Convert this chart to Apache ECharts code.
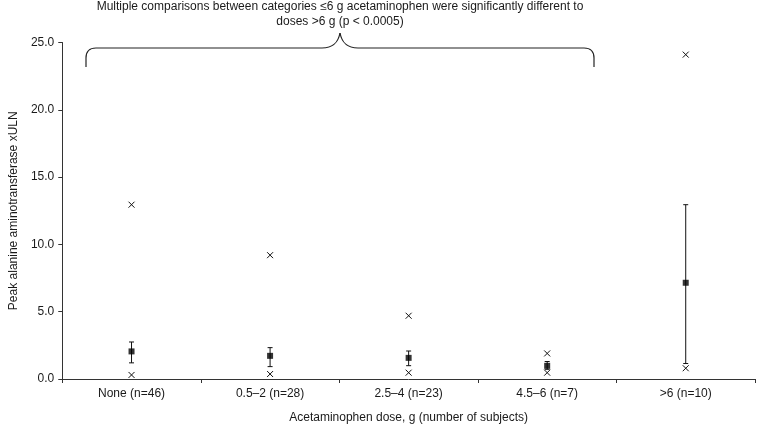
<!DOCTYPE html>
<html>
<head>
<meta charset="utf-8">
<script src="https://cdn.jsdelivr.net/npm/echarts@6/dist/echarts.min.js"></script>
<style>
html,body{margin:0;padding:0;background:#fff;}
#chart{width:757px;height:434px;}
</style>
</head>
<body>
<div id="chart"></div>
<script>
const categories = ['None (n=46)', '0.5–2 (n=28)', '2.5–4 (n=23)', '4.5–6 (n=7)', '>6 (n=10)'];
const centreValues = [2.05, 1.72, 1.57, 0.98, 7.15];
const errorLow = [1.2, 0.92, 0.99, 0.72, 1.15];
const errorHigh = [2.75, 2.33, 2.08, 1.3, 12.95];
const maxValues = [12.95, 9.2, 4.7, 1.9, 24.1];
const minValues = [0.3, 0.37, 0.47, 0.47, 0.8];
const yTicks = { min: 0, max: 25, interval: 5 };
const annotationLines = [
  'Multiple comparisons between categories ≤6 g acetaminophen were significantly different to',
  'doses >6 g (p < 0.0005)'
];

const FONT = 'Liberation Sans, Arial, sans-serif';
const INK = '#1a1a1a';

const chart = echarts.init(document.getElementById('chart'), null, { renderer: 'canvas' });

const errData = categories.map((c, i) => [i, errorLow[i], errorHigh[i]]);
const crossData = [];
categories.forEach((c, i) => { crossData.push([i, maxValues[i]]); crossData.push([i, minValues[i]]); });
const centreData = categories.map((c, i) => [i, centreValues[i]]);

const braceStyle = { stroke: '#222', lineWidth: 1.2, fill: null };
function seg(x1, y1, x2, y2) {
  return { type: 'line', shape: { x1, y1, x2, y2 }, style: braceStyle, silent: true };
}
function bez(shape) {
  return { type: 'bezierCurve', shape, style: braceStyle, silent: true };
}

chart.setOption({
  animation: false,
  backgroundColor: '#fff',
  textStyle: { fontFamily: FONT },
  grid: { left: 51, right: 2, top: 42.5, bottom: 55, containLabel: false },
  xAxis: {
    type: 'category',
    data: categories,
    boundaryGap: true,
    axisLine: { lineStyle: { color: '#333', width: 1 } },
    axisTick: { show: true, interval: 0, length: 4, lineStyle: { color: '#333' } },
    axisLabel: { interval: 0, color: INK, fontSize: 12, fontFamily: FONT, margin: 9 },
    name: 'Acetaminophen dose, g (number of subjects)',
    nameLocation: 'middle',
    nameGap: 33,
    nameTextStyle: { color: INK, fontSize: 12, fontFamily: FONT },
    splitLine: { show: false }
  },
  yAxis: {
    type: 'value',
    min: yTicks.min, max: yTicks.max, interval: yTicks.interval,
    axisLine: { show: true, lineStyle: { color: '#333', width: 1 } },
    axisTick: { show: true, length: 4, lineStyle: { color: '#333' } },
    axisLabel: { color: INK, fontSize: 12, fontFamily: FONT, margin: 8, formatter: v => v.toFixed(1) },
    splitLine: { show: false },
    name: 'Peak alanine aminotransferase xULN',
    nameLocation: 'middle',
    nameGap: 37,
    nameTextStyle: { color: INK, fontSize: 12, fontFamily: FONT }
  },
  series: [
    {
      type: 'custom',
      name: 'range',
      data: errData,
      encode: { x: 0, y: [1, 2] },
      renderItem: (params, api) => {
        const lo = api.coord([api.value(0), api.value(1)]);
        const hi = api.coord([api.value(0), api.value(2)]);
        const cap = 2.5;
        const st = { stroke: '#111', lineWidth: 1, fill: null };
        return {
          type: 'group',
          children: [
            { type: 'line', shape: { x1: lo[0], y1: lo[1], x2: hi[0], y2: hi[1] }, style: st },
            { type: 'line', shape: { x1: lo[0] - cap, y1: lo[1], x2: lo[0] + cap, y2: lo[1] }, style: st },
            { type: 'line', shape: { x1: hi[0] - cap, y1: hi[1], x2: hi[0] + cap, y2: hi[1] }, style: st }
          ]
        };
      },
      z: 2
    },
    {
      type: 'custom',
      name: 'extremes',
      data: crossData,
      encode: { x: 0, y: 1 },
      renderItem: (params, api) => {
        const p = api.coord([api.value(0), api.value(1)]);
        const h = 3;
        const st = { stroke: '#111', lineWidth: 1, fill: null };
        return {
          type: 'group',
          children: [
            { type: 'line', shape: { x1: p[0] - h, y1: p[1] - h, x2: p[0] + h, y2: p[1] + h }, style: st },
            { type: 'line', shape: { x1: p[0] - h, y1: p[1] + h, x2: p[0] + h, y2: p[1] - h }, style: st }
          ]
        };
      },
      z: 3
    },
    {
      type: 'scatter',
      name: 'centre',
      data: centreData,
      symbol: 'rect',
      symbolSize: 6,
      itemStyle: { color: '#000' },
      z: 4
    }
  ],
  graphic: [
    {
      type: 'text',
      x: 340, y: -1,
      silent: true,
      style: {
        text: annotationLines.join('\n'),
        textAlign: 'center',
        textVerticalAlign: 'top',
        fill: INK,
        font: '12px ' + FONT,
        lineHeight: 15
      }
    },
    {
      type: 'group',
      silent: true,
      children: [
        seg(86, 67, 86, 58),
        bez({ x1: 86, y1: 58, cpx1: 86, cpy1: 48, x2: 96, y2: 48 }),
        seg(96, 48, 322, 48),
        bez({ x1: 322, y1: 48, cpx1: 333, cpy1: 48, cpx2: 338, cpy2: 43, x2: 340, y2: 33 }),
        bez({ x1: 340, y1: 33, cpx1: 342, cpy1: 43, cpx2: 347, cpy2: 48, x2: 358, y2: 48 }),
        seg(358, 48, 584, 48),
        bez({ x1: 584, y1: 48, cpx1: 594, cpy1: 48, x2: 594, y2: 58 }),
        seg(594, 58, 594, 67)
      ]
    }
  ]
});
</script>
</body>
</html>
